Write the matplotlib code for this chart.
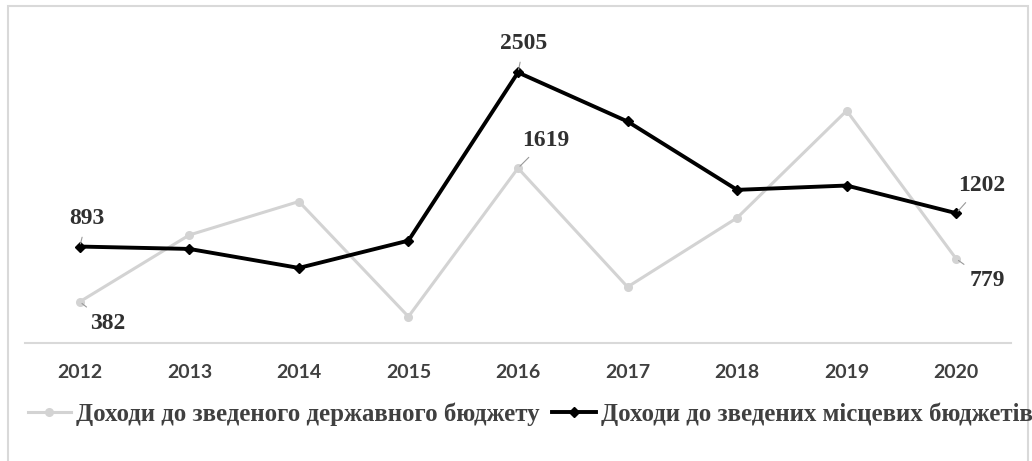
import matplotlib
matplotlib.use("Agg")
import matplotlib.pyplot as plt
from matplotlib.patches import Rectangle

# дані
years = ["2012", "2013", "2014", "2015", "2016", "2017", "2018", "2019", "2020"]
state_budget = [382, 1000, 1310, 244, 1619, 519, 1159, 2151, 779]
local_budgets = [893, 871, 695, 948, 2505, 2051, 1418, 1458, 1202]
state_label = "Доходи до зведеного державного бюджету"
local_label = "Доходи до зведених місцевих бюджетів"

# підписи точок: (індекс, зсув у пікселях)
state_notes = [(0, (28, -22)), (4, (28, 28)), (8, (31, -22))]
local_notes = [(0, (7, 28)), (4, (6, 29)), (8, (25, 28))]

fig = plt.figure(figsize=(10.32, 4.61), dpi=100)
fig.patches.append(Rectangle((8 / 1032, -0.05), 1020 / 1032, 1.05 - 6 / 461,
                             transform=fig.transFigure, fill=False,
                             edgecolor="#d9d9d9", linewidth=1.5))

ax = fig.add_axes([25 / 1032, 118 / 461, 986 / 1032, 324 / 461])
x = range(len(years))

ax.plot(x, state_budget, color="#d3d3d3", lw=2.2, marker="o", ms=5.5,
        label=state_label, zorder=2)
ax.plot(x, local_budgets, color="black", lw=2.8, marker="D", ms=5,
        label=local_label, zorder=3)

serif_bold = dict(family="Liberation Serif", weight="bold", size=17, color="#303030")
leader = dict(arrowstyle="-", color="#999999", lw=0.8, shrinkA=4, shrinkB=2)

for i, (dx, dy) in state_notes:
    ax.annotate(str(state_budget[i]), (i, state_budget[i]), xytext=(dx, dy),
                textcoords="offset pixels", ha="center", va="center",
                arrowprops=leader, **serif_bold)
for i, (dx, dy) in local_notes:
    ax.annotate(str(local_budgets[i]), (i, local_budgets[i]), xytext=(dx, dy),
                textcoords="offset pixels", ha="center", va="center",
                arrowprops=leader, **serif_bold)

ax.set_xlim(-0.5, len(years) - 0.5)
ax.set_ylim(0, 3000)
ax.set_xticks(list(x))
ax.set_xticklabels(years, family="Lato", weight="bold", size=14, color="#404040")
ax.tick_params(axis="x", length=0, pad=15)
ax.set_yticks([])
for s in ["top", "left", "right"]:
    ax.spines[s].set_visible(False)
ax.spines["bottom"].set_color("#d9d9d9")
ax.spines["bottom"].set_linewidth(1.5)

fig.legend(loc="center", bbox_to_anchor=(530 / 1032, 47 / 461), ncol=2,
           frameon=False, handlelength=1.75, handletextpad=0.2, columnspacing=0.5,
           prop=dict(family="Liberation Serif", weight="bold", size=17.9))
for t in fig.legends[0].get_texts():
    t.set_color("#404040")

fig.savefig("out.png", dpi=100, facecolor="white")
